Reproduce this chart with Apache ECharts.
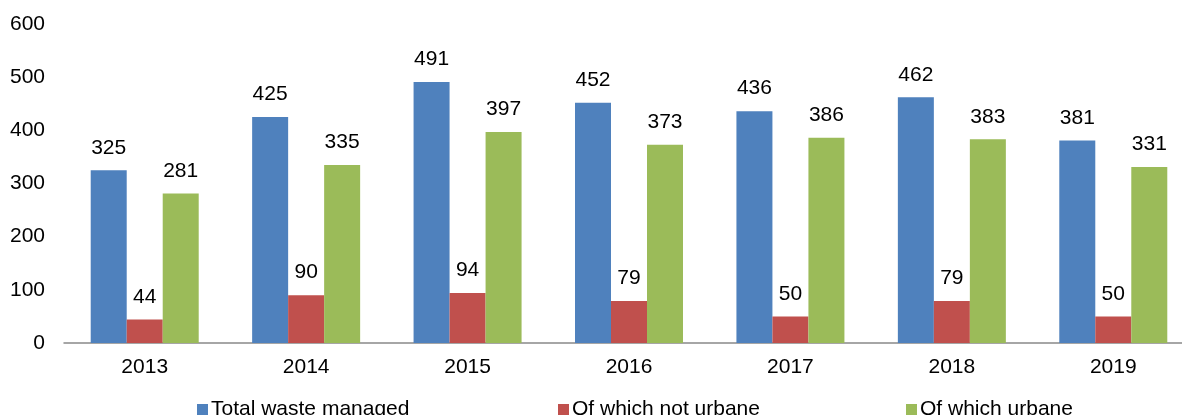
<!DOCTYPE html>
<html>
<head>
<meta charset="utf-8">
<script src="https://cdn.jsdelivr.net/npm/echarts@6/dist/echarts.min.js"></script>
<style>
  html, body { margin: 0; padding: 0; background: #fff; overflow: hidden; }
  #chart { width: 1200px; height: 415px; }
</style>
</head>
<body>
<div id="chart"></div>
<script>
// 年份和数据
const years = ["2013", "2014", "2015", "2016", "2017", "2018", "2019"];
const totalWaste = [325, 425, 491, 452, 436, 462, 381];
const notUrbane = [44, 90, 94, 79, 50, 79, 50];
const urbane = [281, 335, 397, 373, 386, 383, 331];
const seriesNames = ["Total waste managed", "Of which not urbane", "Of which urbane"];
const colors = ["#4F81BD", "#C0504D", "#9BBB59"];

const font = "'Liberation Sans', Arial, sans-serif";
const chart = echarts.init(document.getElementById("chart"));

function legendItem(name, left) {
  return {
    data: [name],
    left: left,
    top: 394,
    icon: "rect",
    itemWidth: 11,
    itemHeight: 11,
    itemGap: 0,
    selectedMode: false,
    textStyle: { fontFamily: font, fontSize: 21, color: "#000", padding: [0, 0, 0, -2] },
  };
}

function barSeries(name, data, color) {
  return {
    name: name,
    type: "bar",
    data: data,
    barWidth: 36,
    barGap: "0%",
    itemStyle: { color: color },
    label: {
      show: true,
      position: "top",
      distance: 12,
      fontFamily: font,
      fontSize: 21,
      color: "#000",
    },
  };
}

chart.setOption({
  animation: false,
  color: colors,
  // 画布比窗口宽一些，最后一组右侧被裁掉
  grid: { left: 64, right: 6, top: 24, bottom: 72 },
  legend: [
    legendItem(seriesNames[0], 192),
    legendItem(seriesNames[1], 553),
    legendItem(seriesNames[2], 901),
  ],
  xAxis: {
    type: "category",
    data: years,
    axisLine: { lineStyle: { color: "#898989", width: 1.5 } },
    axisTick: { show: false },
    axisLabel: { margin: 14, fontFamily: font, fontSize: 21, color: "#000" },
  },
  yAxis: {
    type: "value",
    min: 0,
    max: 600,
    interval: 100,
    splitLine: { show: false },
    axisLine: { show: false },
    axisTick: { show: false },
    axisLabel: { margin: 19, fontFamily: font, fontSize: 21, color: "#000" },
  },
  series: [
    barSeries(seriesNames[0], totalWaste, colors[0]),
    barSeries(seriesNames[1], notUrbane, colors[1]),
    barSeries(seriesNames[2], urbane, colors[2]),
  ],
});
</script>
</body>
</html>
